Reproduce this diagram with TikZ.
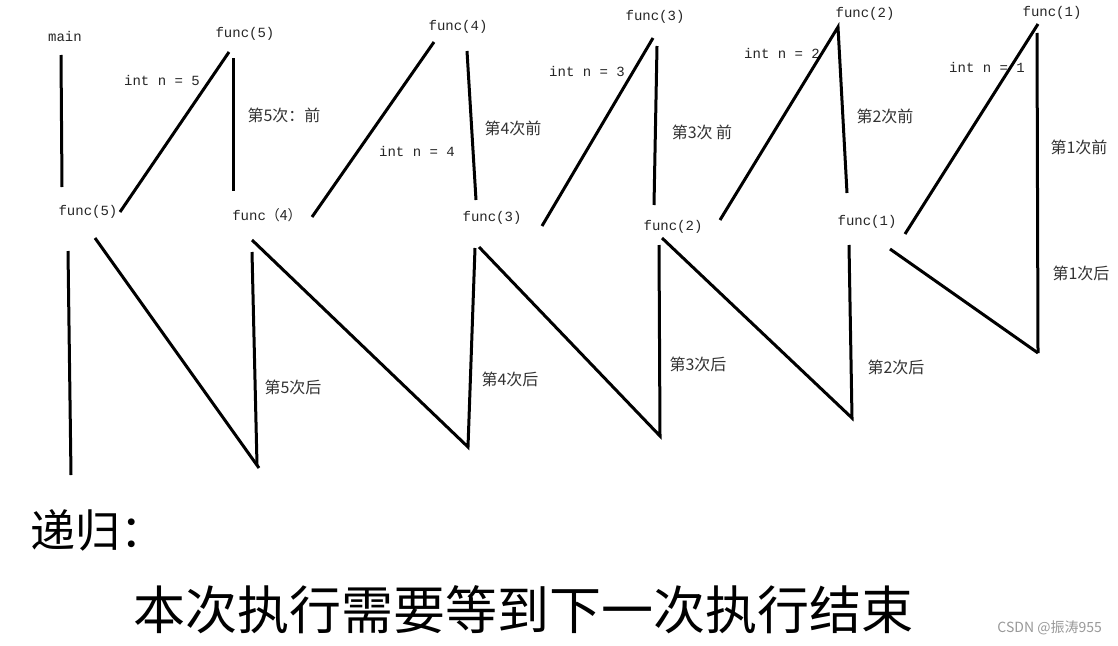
\documentclass[tikz,border=0pt]{standalone}
\usepackage{fontspec}
\setmonofont{Liberation Mono}
\newfontfamily\cjk{Noto Sans CJK SC}
\usepackage{tikz}

\begin{document}
\begin{tikzpicture}[x=1pt,y=-1pt,
		stroke/.style={line width=3pt},
		code/.style={font=\fontsize{14}{16}\selectfont\ttfamily, text=black!85},
		note/.style={font=\fontsize{16}{18}\selectfont\cjk, text=black!80}]
	\fill[white] (0,0) rectangle (1118,645);

	% labels
	\node[code] (main) at (65,36) {main};
	\node[code] (f5top) at (245,34) {func(5)};
	\node[code] (n5) at (162,80) {int n = 5};
	\node[note] (pre5) at (284,115) {第5次：前};
	\node[code] (f5) at (88,212) {func(5)};
	\node[code] (f4) at (267,215) {func{\cjk （4）}};
	\node[code] (f4top) at (458,27) {func(4)};
	\node[code] (n4) at (417,151) {int n = 4};
	\node[note] (pre4) at (513,128) {第4次前};
	\node[code] (f3) at (492,218) {func(3)};
	\node[code] (f3top) at (655,17) {func(3)};
	\node[code] (n3) at (587,71) {int n = 3};
	\node[note] (pre3) at (702,132) {第3次 前};
	\node[code] (f2) at (673,227) {func(2)};
	\node[code] (f2top) at (865,14) {func(2)};
	\node[code] (n2) at (782,53) {int n = 2};
	\node[note] (pre2) at (885,116) {第2次前};
	\node[code] (f1) at (867,222) {func(1)};
	\node[code] (f1top) at (1052,13) {func(1)};
	\node[code] (n1) at (987,67) {int n = 1};
	\node[note] (pre1) at (1079,147) {第1次前};
	\node[note] (post5) at (293,387) {第5次后};
	\node[note] (post4) at (510,379) {第4次后};
	\node[note] (post3) at (698,364) {第3次后};
	\node[note] (post2) at (896,367) {第2次后};
	\node[note] (post1) at (1081,273) {第1次后};

	% strokes, upper row
	\coordinate (mainT) at (61,55);
	\coordinate (mainB) at (62,187);
	\coordinate (c5s) at (120,212);
	\coordinate (c5e) at (229,52);
	\coordinate (p5s) at (233,58);
	\coordinate (p5e) at (233,191);
	\coordinate (c4s) at (312,217);
	\coordinate (c4e) at (434,42);
	\coordinate (p4s) at (467,51);
	\coordinate (p4e) at (476,200);
	\coordinate (c3s) at (542,226);
	\coordinate (c3e) at (653,38);
	\coordinate (p3s) at (657,46);
	\coordinate (p3e) at (654,205);
	\coordinate (c2s) at (720,220);
	\coordinate (c2e) at (838,27);
	\coordinate (p2e) at (847,193);
	\coordinate (c1s) at (905,234);
	\coordinate (c1e) at (1038,24);
	\coordinate (p1s) at (1037,33);
	% strokes, lower row
	\coordinate (mainL) at (68,251);
	\coordinate (mainE) at (71,475);
	\coordinate (r5s) at (95,238);
	\coordinate (r5e) at (259,468);
	\coordinate (a5s) at (252,252);
	\coordinate (a5e) at (257,465);
	\coordinate (r4s) at (252,240);
	\coordinate (r4e) at (468,447);
	\coordinate (a4s) at (475,248);
	\coordinate (r3s) at (479,247);
	\coordinate (r3e) at (660,436);
	\coordinate (a3s) at (659,245);
	\coordinate (r2s) at (662,238);
	\coordinate (r2e) at (852,418);
	\coordinate (a2s) at (849,245);
	\coordinate (r1s) at (890,249);
	\coordinate (r1e) at (1038,353);

	\draw[stroke] (mainT) -- (mainB);
	\draw[stroke] (c5s) -- (c5e);
	\draw[stroke] (p5s) -- (p5e);
	\draw[stroke] (c4s) -- (c4e);
	\draw[stroke] (p4s) -- (p4e);
	\draw[stroke] (c3s) -- (c3e);
	\draw[stroke] (p3s) -- (p3e);
	\draw[stroke] (c2s) -- (c2e) -- (p2e);
	\draw[stroke] (c1s) -- (c1e);
	\draw[stroke] (p1s) -- (r1e);

	\draw[stroke] (mainL) -- (mainE);
	\draw[stroke] (r5s) -- (r5e);
	\draw[stroke] (a5s) -- (a5e);
	\draw[stroke] (r4s) -- (r4e) -- (a4s);
	\draw[stroke] (r3s) -- (r3e) -- (a3s);
	\draw[stroke] (r2s) -- (r2e) -- (a2s);
	\draw[stroke] (r1s) -- (r1e);

	% caption
	\node[anchor=west, inner sep=0pt, font=\fontsize{45}{50}\selectfont\cjk] (title) at (30,530) {递归：};
	\node[anchor=west, inner sep=0pt, font=\fontsize{52}{56}\selectfont\cjk] (rule) at (133,610) {本次执行需要等到下一次执行结束};
	\node[anchor=east, inner sep=0pt, font=\fontsize{14}{16}\selectfont\cjk, text=black!40] (mark) at (1102,628) {CSDN @振涛955};
\end{tikzpicture}
\end{document}
